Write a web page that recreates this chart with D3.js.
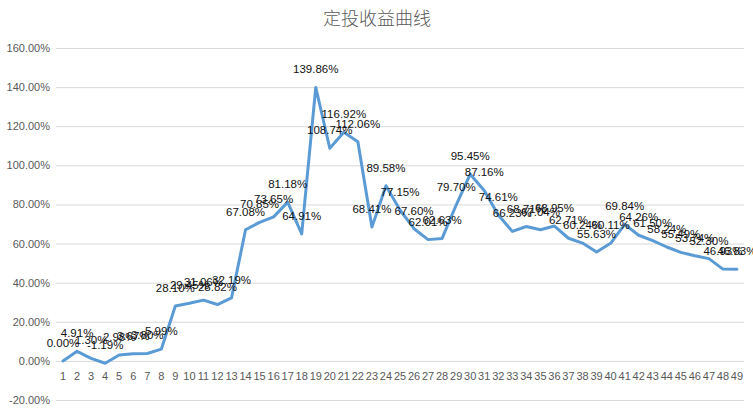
<!DOCTYPE html>
<html>
<head>
<meta charset="utf-8">
<script src="https://cdn.jsdelivr.net/npm/d3@7"></script>
<style>
  body { margin: 0; background: #fff; }
</style>
</head>
<body>
<script>
'use strict';

// categories (period number) and returns in percent
const periods = d3.range(1, 50);
const returns = [
    0.00, 4.91, 1.30, -1.19, 2.98, 3.67, 3.80, 5.99, 28.10, 29.45,
    31.06, 28.82, 32.19, 67.08, 70.85, 73.65, 81.18, 64.91, 139.86, 108.74,
    116.92, 112.06, 68.41, 89.58, 77.15, 67.60, 62.01, 62.63, 79.70, 95.45,
    87.16, 74.61, 66.23, 68.71, 67.04, 68.95, 62.71, 60.24, 55.63, 60.11,
    69.84, 64.26, 61.50, 58.24, 55.49, 53.74, 52.30, 46.93, 46.83
];
const yTicks = [-20, 0, 20, 40, 60, 80, 100, 120, 140, 160];
const title = "定投收益曲线";

const width = 753, height = 409;
const svg = d3.select("body").append("svg")
    .attr("width", width)
    .attr("height", height);

// title
svg.append("text")
    .attr("x", 377)
    .attr("y", 25)
    .attr("text-anchor", "middle")
    .attr("font-family", "'Noto Sans CJK SC', sans-serif")
    .attr("font-size", "18px")
    .attr("font-weight", 300)
    .attr("fill", "#595959")
    .text(title);

let xScale = d3.scaleBand()
    .domain(periods)
    .range([56, 744]);

let yScale = d3.scaleLinear()
    .domain([-20, 160])
    .range([400, 48]);

// gridlines + y labels
let yAxis = d3.axisLeft(yScale)
    .tickValues(yTicks)
    .tickSize(-(744 - 56))
    .tickPadding(6)
    .tickFormat(d => d.toFixed(2) + "%");
let gy = svg.append("g")
    .attr("transform", "translate(56,0)")
    .call(yAxis);
gy.select(".domain").remove();
gy.selectAll(".tick line").attr("stroke", "#d9d9d9");
gy.selectAll(".tick text")
    .attr("fill", "#595959")
    .attr("font-family", "'Liberation Sans', Arial, sans-serif")
    .attr("font-size", "11px");

// x axis labels sit just below the zero line
let xAxis = d3.axisBottom(xScale)
    .tickSize(0)
    .tickPadding(11);
let gx = svg.append("g")
    .attr("transform", "translate(0," + yScale(0) + ")")
    .call(xAxis);
gx.select(".domain").remove();
gx.selectAll(".tick text")
    .attr("fill", "#595959")
    .attr("font-family", "'Liberation Sans', Arial, sans-serif")
    .attr("font-size", "11px");

let xMap = (d, i) => xScale(periods[i]) + xScale.bandwidth() / 2;

// the curve
let line = d3.line()
    .x((d, i) => xMap(d, i))
    .y(d => yScale(d));
svg.append("path")
    .datum(returns)
    .attr("d", line)
    .attr("fill", "none")
    .attr("stroke", "#5b9bd5")
    .attr("stroke-width", 3)
    .attr("stroke-linejoin", "round")
    .attr("stroke-linecap", "round");

// data labels above each point (they overlap, as in the original)
svg.selectAll(".lbl")
    .data(returns)
    .enter()
    .append("text")
        .attr("class", "lbl")
        .attr("x", (d, i) => xMap(d, i))
        .attr("y", d => yScale(d) - 14)
        .attr("text-anchor", "middle")
        .attr("font-family", "'Liberation Sans', Arial, sans-serif")
        .attr("font-size", "11.5px")
        .attr("fill", "#111")
        .text(d => d.toFixed(2) + "%");
</script>
</body>
</html>
